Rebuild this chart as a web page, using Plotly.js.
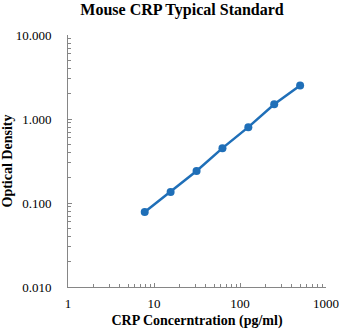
<!DOCTYPE html>
<html>
<head>
<meta charset="utf-8">
<script src="https://cdn.plot.ly/plotly-3.0.1.min.js"></script>
<style>html,body{margin:0;padding:0;background:#fff;}#chart{width:339px;height:333px;}</style>
</head>
<body>
<div id="chart"></div>
<script>
const concentration = [7.8, 15.6, 31.25, 62.5, 125, 250, 500];
const opticalDensity = [0.078, 0.135, 0.24, 0.45, 0.80, 1.50, 2.50];
const yTickVals = [0.01, 0.1, 1, 10];
const yTickText = ["0.010", "0.100", "1.000", "10.000"];
const xTickVals = [1, 10, 100, 1000];
const xTickText = ["1", "10", "100", "1000"];

const serif = "Liberation Serif, Times New Roman, serif";
const trace = {
  x: concentration,
  y: opticalDensity,
  type: "scatter",
  mode: "lines+markers",
  line: {color: "#1f6fb8", width: 2.5},
  marker: {color: "#1f6fb8", size: 8},
  showlegend: false
};
const layout = {
  width: 339, height: 333,
  margin: {l: 68, r: 13, t: 35, b: 46},
  paper_bgcolor: "#fff", plot_bgcolor: "#fff",
  title: {text: "<b>Mouse CRP Typical Standard</b>", x: 0.537, xanchor: "center", y: 0.972, yanchor: "middle",
          font: {family: serif, size: 16, color: "#000"}},
  xaxis: {
    type: "log", range: [0, 3], showgrid: false, zeroline: false,
    showline: true, linecolor: "#868686", linewidth: 1,
    tickmode: "array", tickvals: xTickVals, ticktext: xTickText,
    ticks: "inside", ticklen: 4, tickcolor: "#868686",
    minor: {ticks: "inside", ticklen: 3, tickcolor: "#868686", dtick: "D1", showgrid: false},
    tickfont: {family: serif, size: 13, color: "#000"},
    ticklabelstandoff: 4,
    title: {text: "<b>CRP Concerntration (pg/ml)</b>", font: {family: serif, size: 14, color: "#000"}, standoff: 5}
  },
  yaxis: {
    type: "log", range: [-2, 1], showgrid: false, zeroline: false,
    showline: true, linecolor: "#868686", linewidth: 1,
    tickmode: "array", tickvals: yTickVals, ticktext: yTickText,
    ticks: "inside", ticklen: 4, tickcolor: "#868686",
    minor: {ticks: "inside", ticklen: 3, tickcolor: "#868686", dtick: "D1", showgrid: false},
    tickfont: {family: serif, size: 13, color: "#000"},
    ticklabelstandoff: 13,
    title: {text: "<b>Optical Density</b>", font: {family: serif, size: 14, color: "#000"}, standoff: 4}
  }
};
Plotly.newPlot("chart", [trace], layout, {displayModeBar: false, staticPlot: true});
</script>
</body>
</html>
